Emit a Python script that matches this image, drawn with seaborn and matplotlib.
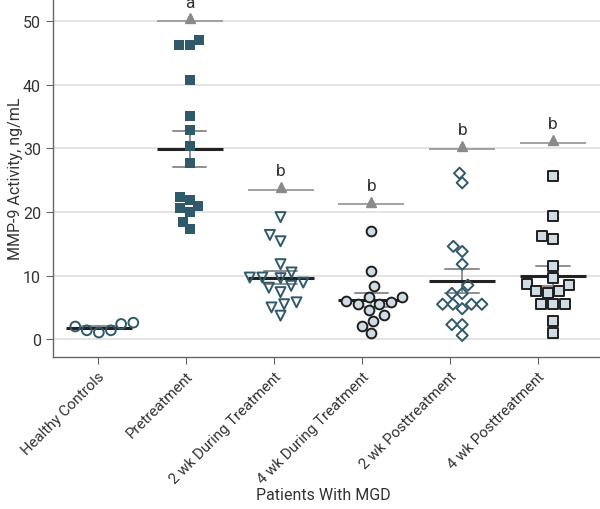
import numpy as np
import pandas as pd
import seaborn as sns
import matplotlib.pyplot as plt

groups = ['Healthy Controls', 'Pretreatment', '2 wk During Treatment',
          '4 wk During Treatment', '2 wk Posttreatment', '4 wk Posttreatment']

healthy = [1.4, 2.4, 1.05, 2.0, 1.4, 2.6]
pretreat = [47.0, 46.3, 46.3, 40.8, 35.1, 32.9, 30.4, 27.7, 21.9, 20.6,
            22.3, 20.9, 20.0, 18.5, 17.3]
during_2wk = [19.2, 16.4, 15.4, 11.8, 10.5, 9.7, 9.6, 9.7, 8.1, 8.4,
              8.9, 7.4, 5.5, 5.8, 5.0, 3.7]
during_4wk = [17.0, 10.7, 8.3, 6.0, 6.6, 6.6, 5.8, 5.5, 5.5, 4.6,
              3.8, 2.9, 2.1, 0.9]
post_2wk = [26.1, 24.6, 13.8, 14.6, 11.8, 8.5, 7.2, 7.2, 5.5, 5.5,
            4.8, 5.5, 5.5, 2.3, 2.3, 0.6]
post_4wk = [25.6, 19.4, 15.7, 16.3, 11.5, 9.7, 8.7, 8.6, 7.6, 7.6,
            7.2, 5.6, 5.6, 5.6, 2.9, 1.05]

sig_letters = ['', 'a', 'b', 'b', 'b', 'b']
sig_level = [np.nan, 50.0, 23.5, 21.2, 29.9, 30.9]

values = [healthy, pretreat, during_2wk, during_4wk, post_2wk, post_4wk]
df = pd.DataFrame({'group': np.repeat(groups, [len(v) for v in values]),
                   'value': np.concatenate(values)})

# marker styles per group
teal = '#2f5a6a'
markers = ['o', 's', 'v', 'o', 'D', 's']
faces = ['none', teal, 'none', '#cfdce4', 'none', '#cfdce4']
edges = [teal, teal, teal, '#1f1f1f', teal, '#1f1f1f']
sizes = [7.0, 7, 7.2, 7.0, 5.7, 6.8]
lws = [1.4, 0, 1.4, 1.4, 1.4, 1.4]

sns.set_style('ticks')
plt.rcParams['font.family'] = ['Roboto', 'DejaVu Sans']
plt.rcParams['text.color'] = '#333333'

fig = plt.figure(figsize=(6, 5.1), dpi=100)
ax = fig.add_axes([0.088, 0.298, 0.912, 0.702])

ax.set_yticks(range(0, 51, 10))
ax.yaxis.grid(True, color='#e2e2e2', linewidth=1.3, zorder=0)
ax.set_axisbelow(True)

# SEM error bars
sns.pointplot(data=df, x='group', y='value', order=groups, errorbar='se',
              color='#8e8e8e', capsize=0.37, linestyle='none', marker='',
              err_kws={'linewidth': 1.4}, ax=ax, zorder=2)
# mean lines
sns.pointplot(data=df, x='group', y='value', order=groups, errorbar=None,
              color='#222222', linestyle='none', marker='_', markersize=47,
              markeredgewidth=2.2, ax=ax, zorder=3)

for i, g in enumerate(groups):
    sub = df[df['group'] == g]
    n0 = len(ax.collections)
    kw = {}
    if faces[i] == 'none':
        kw['facecolors'] = 'none'
    sns.swarmplot(data=sub, x='group', y='value', order=groups, ax=ax,
                  marker=markers[i], size=sizes[i],
                  color=edges[i] if faces[i] == 'none' else faces[i],
                  edgecolor=edges[i], linewidth=lws[i], zorder=4, **kw)
    if faces[i] == 'none':
        for c in ax.collections[n0:]:
            c.set_facecolor('none')
            c.set_edgecolor(edges[i])

# significance marks
for i, letter in enumerate(sig_letters):
    if not letter:
        continue
    ax.hlines(sig_level[i], i - 0.363, i + 0.363, color='#9a9a9a', linewidth=1.3)
    ax.plot(i, sig_level[i] + 0.45, marker='^', color='#8a8a8a', markersize=7)
    ax.text(i, sig_level[i] + 2.3, letter, ha='center', va='baseline',
            fontsize=12.5, color='#333333', clip_on=False)

# tick marks in the original sit on a slightly tighter spacing than the groups
tick_pos = (np.arange(len(groups)) * 88 - 1.3) / 90.8
ax.set_xlim(-0.507, 5.517)
ax.set_ylim(-2.8, 53.5)
ax.set_xticks(tick_pos)
ax.set_xticklabels(groups, rotation=45, ha='right', rotation_mode='anchor')
ax.tick_params(axis='both', labelsize=10.8, colors='#333333', length=5, color='#666666')
ax.tick_params(axis='y', labelsize=11.5)
ax.set_xlabel('Patients With MGD', fontsize=11.5, color='#333333', va='center')
ax.set_ylabel('MMP-9 Activity, ng/mL', fontsize=11.5, color='#333333', va='center')
ax.xaxis.set_label_coords(0.494, -0.383)
ax.yaxis.set_label_coords(-0.069, 0.5)
sns.despine(ax=ax)
for s in ['left', 'bottom']:
    ax.spines[s].set_color('#666666')
    ax.spines[s].set_linewidth(1.0)

fig.savefig('out.png', dpi=100)
